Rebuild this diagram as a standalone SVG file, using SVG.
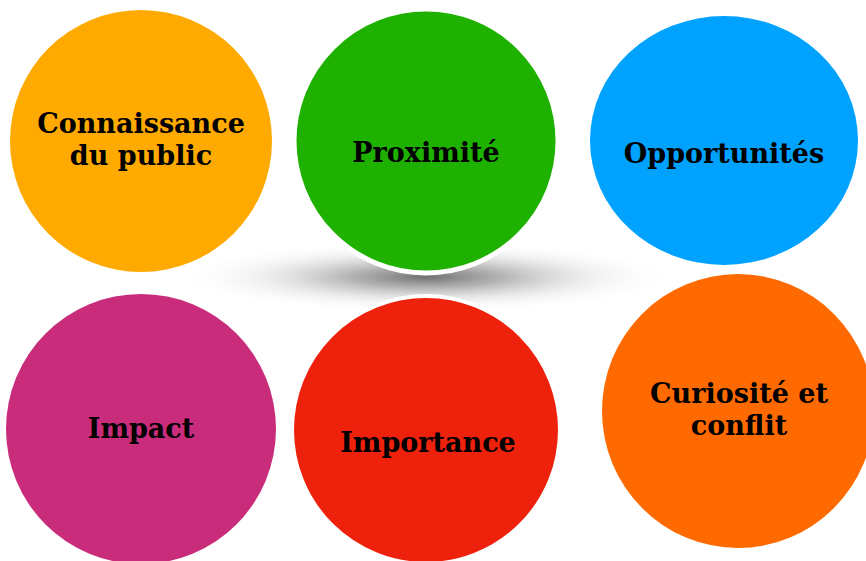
<svg xmlns="http://www.w3.org/2000/svg" width="866" height="561" viewBox="0 0 866 561">
<defs>
<radialGradient id="shadow" cx="0.5" cy="0.5" r="0.5">
<stop offset="0" stop-color="#707070" stop-opacity="1"/>
<stop offset="0.3" stop-color="#9a9a9a" stop-opacity="0.75"/>
<stop offset="0.65" stop-color="#d0d0d0" stop-opacity="0.35"/>
<stop offset="1" stop-color="#ffffff" stop-opacity="0"/>
</radialGradient>
<style>
text { font-family: "DejaVu Serif", "Liberation Serif", serif; font-weight: bold; font-size: 27px; fill: #000; text-anchor: middle; }
</style>
</defs>
<rect width="866" height="561" fill="#ffffff"/>
<ellipse cx="426" cy="277" rx="250" ry="36" fill="url(#shadow)"/>
<g id="connectors"></g>
<g id="n1">
<circle cx="141" cy="141" r="131" fill="#FFAA00"/>
<text x="141" y="133">Connaissance</text>
<text x="141" y="165">du public</text>
</g>
<g id="n2">
<circle cx="426" cy="141" r="132" fill="#1EB100" stroke="#ffffff" stroke-width="5"/>
<text x="426" y="162">Proximité</text>
</g>
<g id="n3">
<ellipse cx="724" cy="140.5" rx="134" ry="124.5" fill="#00A2FF"/>
<text x="724" y="163">Opportunités</text>
</g>
<g id="n4">
<circle cx="141" cy="429" r="135" fill="#C92C7B"/>
<text x="141" y="438">Impact</text>
</g>
<g id="n5">
<circle cx="426" cy="430" r="134" fill="#EE220C" stroke="#ffffff" stroke-width="4"/>
<text x="428" y="452">Importance</text>
</g>
<g id="n6">
<ellipse cx="738" cy="411" rx="136" ry="137" fill="#FF6A00"/>
<text x="739" y="403">Curiosité et</text>
<text x="739" y="435">conflit</text>
</g>
</svg>
